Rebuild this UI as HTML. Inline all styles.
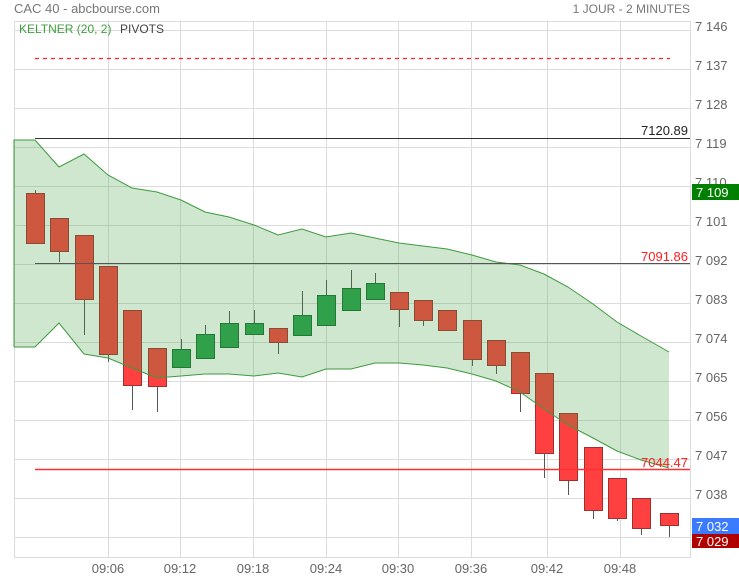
<!DOCTYPE html>
<html><head><meta charset="utf-8"><style>
html,body{margin:0;padding:0;background:#fff;}
svg{display:block;font-family:"Liberation Sans",sans-serif;}
</style></head><body>
<svg width="739" height="580" viewBox="0 0 739 580" xmlns="http://www.w3.org/2000/svg">
<rect width="739" height="580" fill="#fff"/>
<text x="14" y="13" font-size="13" fill="#777">CAC 40 - abcbourse.com</text>
<text x="690" y="13" font-size="12" fill="#777" text-anchor="end">1 JOUR - 2 MINUTES</text>
<g stroke="#dcdcdc" stroke-width="1">
<line x1="14" y1="30.5" x2="690" y2="30.5"/><line x1="14" y1="69.5" x2="690" y2="69.5"/>
<line x1="14" y1="108.5" x2="690" y2="108.5"/><line x1="14" y1="147.5" x2="690" y2="147.5"/>
<line x1="14" y1="186.5" x2="690" y2="186.5"/><line x1="14" y1="225.5" x2="690" y2="225.5"/>
<line x1="14" y1="264.5" x2="690" y2="264.5"/><line x1="14" y1="303.5" x2="690" y2="303.5"/>
<line x1="14" y1="342.5" x2="690" y2="342.5"/><line x1="14" y1="381.5" x2="690" y2="381.5"/>
<line x1="14" y1="420.5" x2="690" y2="420.5"/><line x1="14" y1="459.5" x2="690" y2="459.5"/>
<line x1="14" y1="498.5" x2="690" y2="498.5"/><line x1="14" y1="537.5" x2="690" y2="537.5"/>
<line x1="108.5" y1="21" x2="108.5" y2="557"/><line x1="180.5" y1="21" x2="180.5" y2="557"/>
<line x1="253.5" y1="21" x2="253.5" y2="557"/><line x1="326.5" y1="21" x2="326.5" y2="557"/>
<line x1="398.5" y1="21" x2="398.5" y2="557"/><line x1="471.5" y1="21" x2="471.5" y2="557"/>
<line x1="547.5" y1="21" x2="547.5" y2="557"/><line x1="620.5" y1="21" x2="620.5" y2="557"/>
</g>
<rect x="14.5" y="21.5" width="676" height="536" fill="none" stroke="#dcdcdc"/>
<g font-size="13" fill="#666">
<text x="695" y="31">7 146</text><text x="695" y="70">7 137</text><text x="695" y="109">7 128</text>
<text x="695" y="148">7 119</text><text x="695" y="187">7 110</text><text x="695" y="226">7 101</text>
<text x="695" y="265">7 092</text><text x="695" y="304">7 083</text><text x="695" y="343">7 074</text>
<text x="695" y="382">7 065</text><text x="695" y="421">7 056</text><text x="695" y="460">7 047</text>
<text x="695" y="499">7 038</text>
<text x="108" y="573" text-anchor="middle">09:06</text><text x="180" y="573" text-anchor="middle">09:12</text>
<text x="253" y="573" text-anchor="middle">09:18</text><text x="326" y="573" text-anchor="middle">09:24</text>
<text x="398" y="573" text-anchor="middle">09:30</text><text x="471" y="573" text-anchor="middle">09:36</text>
<text x="547" y="573" text-anchor="middle">09:42</text><text x="620" y="573" text-anchor="middle">09:48</text>
</g>
<g stroke="#555" stroke-width="1">
<line x1="35.5" y1="190" x2="35.5" y2="243"/><line x1="59.5" y1="218" x2="59.5" y2="262"/>
<line x1="84.5" y1="235" x2="84.5" y2="335"/><line x1="108.5" y1="266" x2="108.5" y2="362"/>
<line x1="132.5" y1="310" x2="132.5" y2="410"/><line x1="157.5" y1="348" x2="157.5" y2="412"/>
<line x1="181.5" y1="339" x2="181.5" y2="367"/><line x1="205.5" y1="325" x2="205.5" y2="358"/>
<line x1="229.5" y1="311" x2="229.5" y2="347"/><line x1="254.5" y1="310" x2="254.5" y2="334"/>
<line x1="278.5" y1="328" x2="278.5" y2="354"/><line x1="302.5" y1="291" x2="302.5" y2="335"/>
<line x1="326.5" y1="280" x2="326.5" y2="325"/><line x1="351.5" y1="270" x2="351.5" y2="310"/>
<line x1="375.5" y1="273" x2="375.5" y2="299"/><line x1="399.5" y1="292" x2="399.5" y2="327"/>
<line x1="423.5" y1="300" x2="423.5" y2="326"/><line x1="447.5" y1="310" x2="447.5" y2="330"/>
<line x1="472.5" y1="320" x2="472.5" y2="366"/><line x1="496.5" y1="340" x2="496.5" y2="374"/>
<line x1="520.5" y1="352" x2="520.5" y2="412"/><line x1="544.5" y1="373" x2="544.5" y2="478"/>
<line x1="568.5" y1="413" x2="568.5" y2="495"/><line x1="593.5" y1="447" x2="593.5" y2="519"/>
<line x1="617.5" y1="478" x2="617.5" y2="521"/><line x1="641.5" y1="498" x2="641.5" y2="535"/>
<line x1="669.5" y1="513" x2="669.5" y2="537"/>
</g>
<g fill="#ff4040" stroke="#a03030" stroke-width="1">
<rect x="26.5" y="193.5" width="18" height="50"/><rect x="50.5" y="218.5" width="18" height="33"/>
<rect x="75.5" y="235.5" width="18" height="64"/><rect x="99.5" y="266.5" width="18" height="88"/>
<rect x="123.5" y="310.5" width="18" height="75"/><rect x="148.5" y="348.5" width="18" height="38"/>
<rect x="269.5" y="328.5" width="18" height="14"/><rect x="390.5" y="292.5" width="18" height="17"/>
<rect x="414.5" y="300.5" width="18" height="20"/><rect x="438.5" y="310.5" width="18" height="20"/>
<rect x="463.5" y="320.5" width="18" height="39"/><rect x="487.5" y="340.5" width="18" height="25"/>
<rect x="511.5" y="352.5" width="18" height="41"/><rect x="535.5" y="373.5" width="18" height="80"/>
<rect x="559.5" y="413.5" width="18" height="67"/><rect x="584.5" y="447.5" width="18" height="63"/>
<rect x="608.5" y="478.5" width="18" height="40"/><rect x="632.5" y="498.5" width="18" height="30"/>
<rect x="660.5" y="513.5" width="18" height="12"/>
</g>
<g fill="#2ea050" stroke="#1d6b35" stroke-width="1">
<rect x="172.5" y="349.5" width="18" height="18"/><rect x="196.5" y="334.5" width="18" height="24"/>
<rect x="220.5" y="323.5" width="18" height="24"/><rect x="245.5" y="323.5" width="18" height="11"/>
<rect x="293.5" y="315.5" width="18" height="20"/><rect x="317.5" y="295.5" width="18" height="30"/>
<rect x="342.5" y="288.5" width="18" height="22"/><rect x="366.5" y="283.5" width="18" height="16"/>
</g>
<polygon fill="rgba(60,160,60,0.25)" stroke="none" points="14,140 35,140 59,167 84,154 108,175 132,188 157,192 181,200 205,212 229,217 254,225 278,235 302,229 326,237 351,233 375,238 399,243 423,246 447,249 472,255 496,262 520,265 544,274 568,287 593,304 617,322 641,336 669,352 669,468 641,460 617,451 593,438 568,425 544,409 520,392 496,381 472,374 447,368 423,365 399,363 375,363 351,369 326,369 302,377 278,373 254,376 229,374 205,374 181,376 157,378 132,368 108,358 84,354 59,323 35,347 14,347"/>
<polyline fill="none" stroke="#3f9a3f" stroke-width="1" points="14,347 14,140 35,140 59,167 84,154 108,175 132,188 157,192 181,200 205,212 229,217 254,225 278,235 302,229 326,237 351,233 375,238 399,243 423,246 447,249 472,255 496,262 520,265 544,274 568,287 593,304 617,322 641,336 669,352"/>
<polyline fill="none" stroke="#3f9a3f" stroke-width="1" points="14,347 35,347 59,323 84,354 108,358 132,368 157,378 181,376 205,374 229,374 254,376 278,373 302,377 326,369 351,369 375,363 399,363 423,365 447,368 472,374 496,381 520,392 544,409 568,425 593,438 617,451 641,460 669,468"/>
<line x1="35" y1="58.5" x2="670" y2="58.5" stroke="#ff2020" stroke-width="1.3" stroke-dasharray="4,4"/>
<line x1="35" y1="138.5" x2="690" y2="138.5" stroke="#333" stroke-width="1"/>
<text x="688" y="135" font-size="13" fill="#222" text-anchor="end">7120.89</text>
<line x1="35" y1="263.5" x2="690" y2="263.5" stroke="#555" stroke-width="1"/>
<text x="688" y="261" font-size="13" fill="#ff2020" text-anchor="end">7091.86</text>
<line x1="35" y1="469.5" x2="690" y2="469.5" stroke="#ff3030" stroke-width="1.5"/>
<text x="688" y="467" font-size="13" fill="#ff2020" text-anchor="end">7044.47</text>
<text x="19" y="33" font-size="12" fill="#3fa03f">KELTNER (20, 2)</text>
<text x="120" y="33" font-size="12" fill="#444">PIVOTS</text>
<rect x="692" y="184" width="47" height="16" fill="#008000"/>
<text x="696" y="197" font-size="13" fill="#fff">7 109</text>
<rect x="692" y="518" width="47" height="16" fill="#3b7bff"/>
<text x="696" y="531" font-size="13" fill="#fff">7 032</text>
<rect x="692" y="534" width="47" height="14" fill="#b00000"/>
<text x="696" y="546" font-size="13" fill="#fff">7 029</text>
</svg>
</body></html>
